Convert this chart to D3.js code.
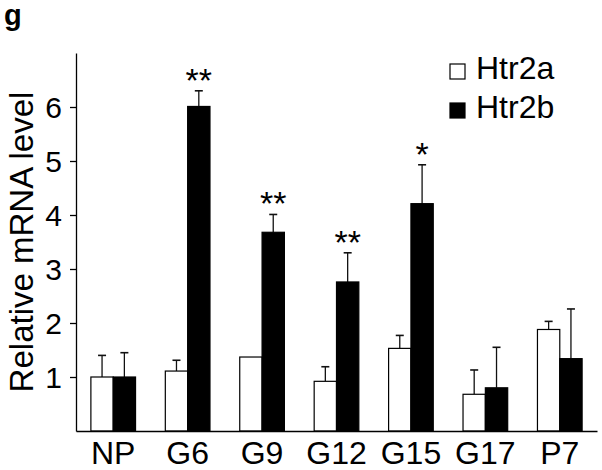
<!DOCTYPE html>
<html lang="en">
<head>
<meta charset="utf-8">
<script src="https://cdn.jsdelivr.net/npm/d3@7"></script>
<style>
    body { margin: 0; background: #fff; }
    svg { font-family: "Liberation Sans", Arial, sans-serif; }
    .axis path, .axis line { fill: none; stroke: black; stroke-width: 1.3px; }
    .axis text { font-family: "Liberation Sans", Arial, sans-serif; fill: black; }
</style>
</head>
<body>
<script>
const categories = ["NP", "G6", "G9", "G12", "G15", "G17", "P7"];
const htr2a    = [1.00, 1.11, 1.37, 0.92, 1.53, 0.68, 1.88];
const htr2aErr = [0.40, 0.20, 0.00, 0.27, 0.24, 0.45, 0.15];
const htr2b    = [1.00, 6.01, 3.68, 2.76, 4.21, 0.80, 1.34];
const htr2bErr = [0.45, 0.29, 0.33, 0.54, 0.72, 0.75, 0.92];
const stars    = ["", "**", "**", "**", "*", "", ""];
const yTicks   = [1, 2, 3, 4, 5, 6];
const seriesNames = ["Htr2a", "Htr2b"];

let w = 602;
let h = 470;
let svg = d3.select("body")
            .append("svg")
            .attr("width", w)
            .attr("height", h);

let xScale = d3.scaleBand()
               .domain(categories)
               .range([76, 597])
               .paddingInner(0.4)
               .paddingOuter(0.2);

let yScale = d3.scaleLinear()
               .domain([0, 7])
               .range([431, 53]);

let bw = xScale.bandwidth() / 2;

// one row per bar
let rows = [];
categories.forEach((c, i) => {
    rows.push({cat: c, s: 0, v: htr2a[i], e: htr2aErr[i]});
    rows.push({cat: c, s: 1, v: htr2b[i], e: htr2bErr[i], star: stars[i]});
});

let xPos = (d) => xScale(d.cat) + d.s * bw;

// error bars (drawn before bars so the line starts at bar top)
let err = svg.append("g")
    .selectAll("g")
    .data(rows.filter((d) => d.e > 0))
    .enter()
    .append("g");

err.append("line")
    .attr("x1", (d) => xPos(d) + bw / 2)
    .attr("x2", (d) => xPos(d) + bw / 2)
    .attr("y1", (d) => yScale(d.v))
    .attr("y2", (d) => yScale(d.v + d.e))
    .attr("stroke", "#111")
    .attr("stroke-width", 1.3);

err.append("line")
    .attr("x1", (d) => xPos(d) + bw / 2 - 4)
    .attr("x2", (d) => xPos(d) + bw / 2 + 4)
    .attr("y1", (d) => yScale(d.v + d.e))
    .attr("y2", (d) => yScale(d.v + d.e))
    .attr("stroke", "#111")
    .attr("stroke-width", 1.6);

svg.append("g")
    .selectAll("rect")
    .data(rows)
    .enter()
    .append("rect")
    .attr("x", (d) => xPos(d))
    .attr("y", (d) => yScale(d.v))
    .attr("width", bw)
    .attr("height", (d) => yScale(0) - yScale(d.v))
    .attr("fill", (d) => d.s === 0 ? "white" : "black")
    .attr("stroke", "black")
    .attr("stroke-width", 1.2);

// significance stars
svg.append("g")
    .selectAll("text")
    .data(rows.filter((d) => d.star))
    .enter()
    .append("text")
    .text((d) => d.star)
    .attr("x", (d) => xPos(d) + bw / 2)
    .attr("y", (d) => yScale(d.v + d.e) + 1)
    .attr("text-anchor", "middle")
    .attr("font-size", "34px")
    .attr("fill", "black");

let yAxis = d3.axisLeft(yScale)
              .tickValues(yTicks)
              .tickSize(6)
              .tickSizeOuter(0)
              .tickPadding(8)
              .tickFormat(d3.format("d"));

svg.append("g")
    .attr("class", "axis")
    .attr("transform", "translate(76, 0)")
    .call(yAxis)
    .selectAll("text")
    .attr("font-size", "30px")
    .attr("dy", "0.36em");

let xAxis = d3.axisBottom(xScale)
              .tickSize(0)
              .tickSizeOuter(0)
              .tickPadding(10);

svg.append("g")
    .attr("class", "axis")
    .attr("transform", "translate(0, 431)")
    .call(xAxis)
    .selectAll("text")
    .attr("font-size", "32px");

svg.append("text")
    .text("Relative mRNA level")
    .attr("transform", "translate(33, 242) rotate(-90)")
    .attr("text-anchor", "middle")
    .attr("font-size", "33px")
    .attr("fill", "black");

svg.append("text")
    .text("g")
    .attr("x", 4)
    .attr("y", 25)
    .attr("font-size", "29px")
    .attr("font-weight", "bold")
    .attr("fill", "black");

// legend
let legend = svg.append("g")
    .selectAll("g")
    .data(seriesNames)
    .enter()
    .append("g")
    .attr("transform", (d, i) => "translate(450, " + (79 + i * 39) + ")");

legend.append("rect")
    .attr("x", 0)
    .attr("y", -15)
    .attr("width", 15)
    .attr("height", 15)
    .attr("fill", (d, i) => i === 0 ? "white" : "black")
    .attr("stroke", "black")
    .attr("stroke-width", 1.2);

legend.append("text")
    .text((d) => d)
    .attr("x", 26)
    .attr("y", 0)
    .attr("font-size", "32px")
    .attr("fill", "black");
</script>
</body>
</html>
